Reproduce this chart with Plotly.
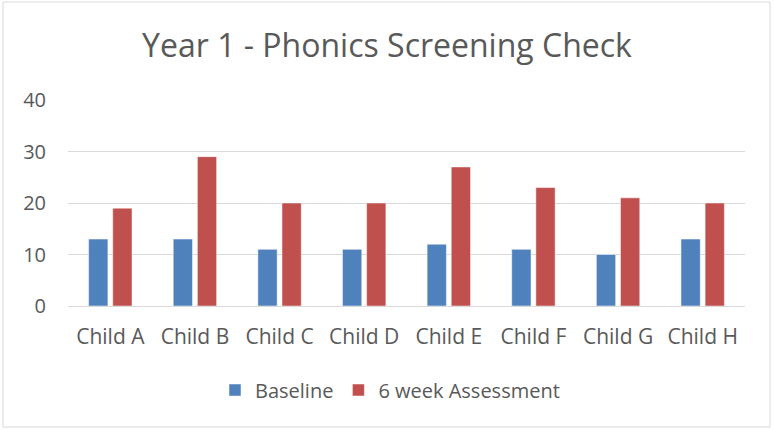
import plotly.graph_objects as go

categories = ["Child A", "Child B", "Child C", "Child D", "Child E", "Child F", "Child G", "Child H"]
baseline = [13, 13, 11, 11, 12, 11, 10, 13]
six_week = [19, 29, 20, 20, 27, 23, 21, 20]
y_ticks = [0, 10, 20, 30, 40]

FONT = "Open Sans, Segoe UI, sans-serif"
GREY = "#595959"

fig = go.Figure()
fig.add_trace(go.Bar(name="Baseline", x=categories, y=baseline,
                     marker=dict(color="#4F81BD", line=dict(color="#ffffff", width=0.5))))
fig.add_trace(go.Bar(name="6 week Assessment", x=categories, y=six_week,
                     marker=dict(color="#C0504D", line=dict(color="#ffffff", width=0.5))))

L, R, T, B = 68, 29, 100, 124
W, H = 774, 430
pw, ph = W - L - R, H - T - B

fig.update_layout(
    width=W, height=H,
    margin=dict(l=L, r=R, t=T, b=B),
    paper_bgcolor="white", plot_bgcolor="white",
    font=dict(family=FONT, color=GREY, size=20),
    title=dict(text="Year 1 - Phonics Screening Check", x=0.5, xanchor="center",
               y=1 - 46 / H, yanchor="middle",
               font=dict(size=32, color=GREY, family=FONT)),
    barmode="group", bargap=0.43, bargroupgap=0.2,
    showlegend=True,
    legend=dict(orientation="h", x=(390 - L) / pw, xanchor="center", y=(306 - 390) / ph, yanchor="middle",
                font=dict(size=20, color=GREY), itemwidth=30, traceorder="normal"),
    xaxis=dict(showgrid=False, showline=False, ticks="", tickfont=dict(size=21, color=GREY),
               ticklabelstandoff=16),
    yaxis=dict(range=[0, 40], tickvals=y_ticks, showgrid=True, gridcolor="#d9d9d9", gridwidth=1,
               zeroline=True, zerolinecolor="#d9d9d9", zerolinewidth=1, showline=False,
               tickfont=dict(size=20, color=GREY), ticklabelstandoff=21),
)

fig.add_shape(type="rect", xref="paper", yref="paper",
              x0=(3 - L) / pw, x1=(770 - L) / pw, y0=(306 - 427) / ph, y1=(306 - 2) / ph,
              line=dict(color="#d9d9d9", width=1), fillcolor="rgba(0,0,0,0)", layer="below")

fig.write_html("out.html", config={"displayModeBar": False},
               post_script="document.body.style.margin='0';")
